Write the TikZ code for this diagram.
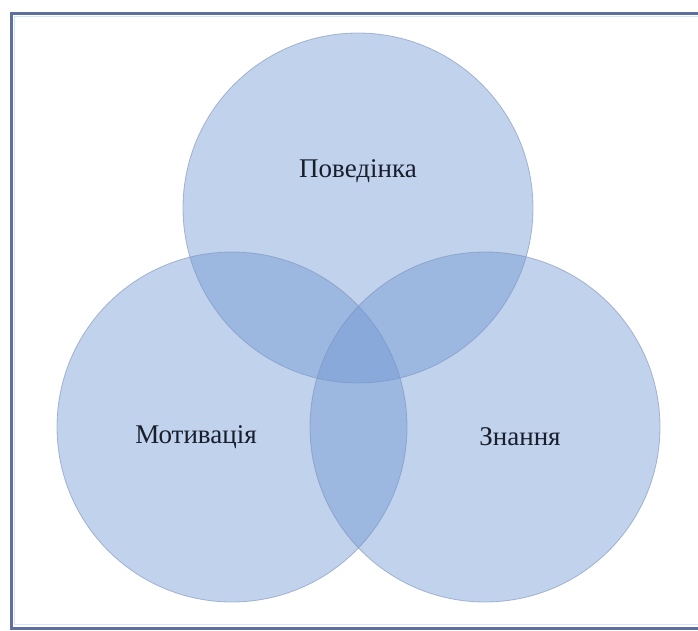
\documentclass[tikz,border=0pt]{standalone}
\usepackage{fontspec}
\setmainfont{Liberation Serif}
\usepackage{xcolor}
\usetikzlibrary{positioning}

\definecolor{setblue}{RGB}{110,150,210}
\definecolor{rimblue}{RGB}{125,145,185}
\definecolor{frameblue}{RGB}{95,112,160}
\definecolor{framelight}{RGB}{215,228,245}
\definecolor{labelink}{RGB}{25,30,45}

\begin{document}
\begin{tikzpicture}[
    x=1pt, y=-1pt,
    setcircle/.style={circle, inner sep=0pt, minimum size=350pt, fill=setblue, fill opacity=0.43, draw=rimblue, draw opacity=0.6, line width=0.8pt},
    setlabel/.style={font=\fontsize{27}{32}\selectfont, text=labelink},
    outerframe/.style={draw=frameblue, line width=3pt},
]
    \useasboundingbox (0,0) rectangle (698,630);
    \draw[outerframe] (11,13) rectangle (702,628);
    \draw[framelight, line width=1pt] (14.5,16.5) rectangle (702,624.5);

    % three sets
    \node[setcircle] (behav) at (358,208) {};
    \node[setcircle] (motiv) at (232,427) {};
    \node[setcircle] (know) at (485,427) {};

    \node[setlabel] (behavtxt) at (358,171) {Поведінка};
    \node[setlabel] (motivtxt) at (196,437) {Мотивація};
    \node[setlabel] (knowtxt) at (520,437) {Знання};
\end{tikzpicture}
\end{document}
